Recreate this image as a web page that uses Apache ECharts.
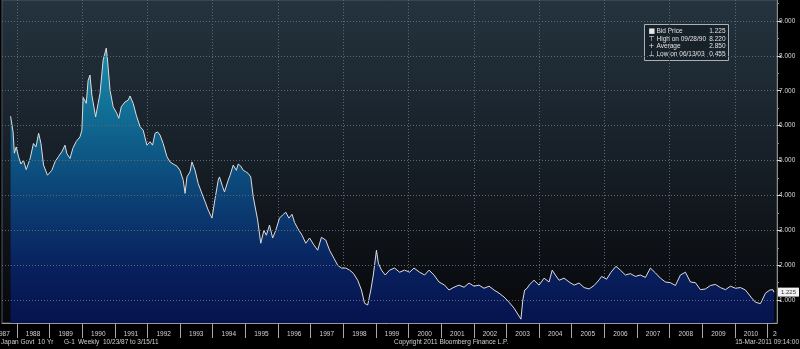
<!DOCTYPE html>
<html>
<head>
<meta charset="utf-8">
<script src="https://cdn.jsdelivr.net/npm/echarts@6/dist/echarts.min.js"></script>
<style>
  html, body { margin: 0; padding: 0; background: #000; }
  #chart { width: 800px; height: 349px; }
</style>
</head>
<body>
<div id="chart"></div>
<script>
// Japan Govt 10 Yr yield, sampled from the weekly series (10/23/87 to 3/15/11)
const dates = [
  '1987-10-23','1987-11-20','1987-12-04','1987-12-25','1988-01-20','1988-02-16','1988-03-15','1988-04-15',
  '1988-05-29','1988-07-05','1988-08-02','1988-09-01','1988-09-27','1988-10-26','1988-12-09','1989-01-27',
  '1989-03-03','1989-04-10','1989-05-18','1989-06-23','1989-07-14','1989-08-18','1989-09-19','1989-10-25',
  '1989-12-08','1989-12-29','1990-01-12','1990-02-16','1990-03-09','1990-03-30','1990-04-20','1990-05-04',
  '1990-06-01','1990-06-29','1990-07-20','1990-08-24','1990-09-28','1990-10-12','1990-11-09','1990-12-14',
  '1991-01-25','1991-02-15','1991-03-15','1991-04-26','1991-05-31','1991-06-21','1991-07-26','1991-08-30',
  '1991-10-11','1991-11-15','1991-12-27','1992-01-31','1992-02-28','1992-03-27','1992-04-24','1992-05-22',
  '1992-06-26','1992-08-07','1992-09-11','1992-10-16','1992-11-27','1992-12-31','1993-02-05','1993-02-26',
  '1993-03-19','1993-04-23','1993-05-14','1993-06-18','1993-07-23','1993-08-27','1993-10-08','1993-11-12',
  '1993-12-24','1994-01-28','1994-03-04','1994-03-18','1994-04-22','1994-05-13','1994-06-24','1994-07-15',
  '1994-08-19','1994-09-02','1994-09-23','1994-10-14','1994-11-11','1994-12-09','1995-01-06','1995-02-03',
  '1995-03-03','1995-03-31','1995-05-19','1995-06-23','1995-07-28','1995-08-25','1995-09-29','1995-11-03',
  '1995-12-08','1996-01-19','1996-02-23','1996-03-29','1996-05-03','1996-06-07','1996-07-05','1996-08-09',
  '1996-09-27','1996-11-08','1996-12-20','1997-02-07','1997-03-21','1997-05-02','1997-06-20','1997-08-01',
  '1997-09-19','1997-10-31','1997-12-12','1998-01-30','1998-03-13','1998-04-24','1998-06-12','1998-07-24',
  '1998-08-28','1998-10-02','1998-11-06','1998-12-04','1999-01-08','1999-01-29','1999-03-05','1999-04-16',
  '1999-06-04','1999-07-30','1999-09-24','1999-11-19','2000-01-14','2000-03-03','2000-05-05','2000-06-30',
  '2000-08-18','2000-10-13','2000-12-08','2001-02-09','2001-03-30','2001-05-25','2001-07-20','2001-09-14',
  '2001-11-09','2002-01-04','2002-03-01','2002-04-26','2002-06-21','2002-08-16','2002-10-11','2002-12-06',
  '2003-01-31','2003-03-28','2003-06-13','2003-07-04','2003-07-25','2003-08-22','2003-09-12','2003-11-07',
  '2004-01-02','2004-02-27','2004-04-23','2004-05-28','2004-07-02','2004-08-13','2004-10-08','2004-12-03',
  '2005-01-28','2005-03-25','2005-05-20','2005-07-15','2005-09-09','2005-11-04','2005-12-02','2006-01-27',
  '2006-03-17','2006-05-12','2006-06-30','2006-08-25','2006-10-20','2006-12-15','2007-02-09','2007-04-06',
  '2007-06-01','2007-07-27','2007-09-21','2007-11-16','2008-01-11','2008-03-07','2008-05-02','2008-06-27',
  '2008-08-22','2008-10-17','2008-12-12','2009-02-06','2009-04-03','2009-05-29','2009-07-24','2009-09-18',
  '2009-11-13','2010-01-08','2010-03-05','2010-04-30','2010-07-09','2010-08-20','2010-10-15','2010-12-10',
  '2011-01-28','2011-03-04','2011-03-15'
];
const yields = [
  6.27, 5.82, 5.21, 5.39, 5.11, 4.90, 5.01, 4.74,
  5.06, 5.49, 5.39, 5.78, 5.49, 4.87, 4.58, 4.72,
  4.96, 5.11, 5.25, 5.44, 5.20, 5.06, 5.35, 5.54,
  5.68, 5.87, 6.81, 6.64, 7.30, 7.45, 6.87, 6.92,
  6.25, 6.64, 6.92, 7.88, 8.22, 7.88, 7.02, 6.54,
  6.35, 6.21, 6.54, 6.68, 6.73, 6.85, 6.64, 6.30,
  5.97, 5.87, 5.44, 5.54, 5.44, 5.78, 5.82, 5.73,
  5.49, 5.11, 4.96, 4.90, 4.84, 4.72, 4.44, 4.06,
  4.53, 4.68, 4.96, 4.72, 4.34, 4.10, 3.82, 3.58,
  3.35, 3.91, 4.44, 4.53, 4.25, 4.10, 4.44, 4.58,
  4.87, 4.92, 4.72, 4.90, 4.84, 4.72, 4.68, 4.63,
  4.53, 3.96, 3.30, 2.63, 3.00, 2.86, 3.15, 2.78,
  3.00, 3.35, 3.44, 3.52, 3.35, 3.46, 3.23, 3.06,
  2.86, 2.63, 2.78, 2.58, 2.43, 2.80, 2.72, 2.43,
  2.20, 2.00, 1.92, 1.92, 1.86, 1.77, 1.57, 1.29,
  0.91, 0.86, 1.29, 1.72, 2.43, 2.06, 1.86, 1.72,
  1.86, 1.92, 1.80, 1.86, 1.80, 1.92, 1.80, 1.72,
  1.86, 1.72, 1.52, 1.43, 1.29, 1.37, 1.43, 1.37,
  1.49, 1.40, 1.43, 1.34, 1.40, 1.29, 1.20, 1.09,
  0.94, 0.77, 0.455, 1.00, 1.29, 1.34, 1.43, 1.57,
  1.43, 1.63, 1.52, 1.86, 1.72, 1.57, 1.63, 1.52,
  1.43, 1.49, 1.36, 1.32, 1.42, 1.58, 1.68, 1.60,
  1.80, 1.97, 1.86, 1.72, 1.76, 1.68, 1.72, 1.65,
  1.92, 1.78, 1.63, 1.52, 1.50, 1.42, 1.72, 1.80,
  1.52, 1.50, 1.30, 1.32, 1.42, 1.45, 1.36, 1.30,
  1.40, 1.34, 1.36, 1.29, 1.06, 0.94, 0.90, 1.20,
  1.29, 1.30, 1.225
];
const yearLabels = [1987,1988,1989,1990,1991,1992,1993,1994,1995,1996,1997,1998,1999,
                    2000,2001,2002,2003,2004,2005,2006,2007,2008,2009,2010,2011];
const yieldTicks = [1, 2, 3, 4, 5, 6, 7, 8, 9];
const averageYield = 2.850;

const axisStart = '1987-07-19';
const axisEnd = '2011-04-18';
const yMin = 0.345, yMax = 9.6;

const footerParts = ['Japan Govt  10 Yr', 'G-1', 'Weekly', '10/23/87 to 3/15/11'];
const footerMid = 'Copyright 2011 Bloomberg Finance L.P.';
const footerRight = '15-Mar-2011 09:14:00';

const FONT = '"Liberation Sans", "DejaVu Sans", sans-serif';

const ts = s => Date.parse(s + 'T00:00:00Z');
const seriesData = dates.map((d, i) => [ts(d), yields[i]]);

// high / low / last for the info box
let hi = 0, lo = 0;
yields.forEach((v, i) => { if (v > yields[hi]) hi = i; if (v < yields[lo]) lo = i; });
const last = yields[yields.length - 1];
function mdy(s) { const p = s.split('-'); return p[1] + '/' + p[2] + '/' + p[0].slice(2); }

// year separators on Jan 1; full years get a label centred mid-year
const inner = yearLabels.filter(y => y > 1987 && y < 2011);
const yearStarts = yearLabels.filter(y => y > 1987).map(y => ts(y + '-01-01'));
const yearMids = inner.map(y => ts(y + '-07-01'));
const evenYears = yearLabels.filter(y => y % 2 === 0).map(y => ts(y + '-01-01'));
const halfTicks = yieldTicks.map(v => v + 0.5).filter(v => v < yMax);

const infoRows = [
  ['\u25A0', 'Bid Price', last.toFixed(3)],
  ['\u22A4', 'High on ' + mdy(dates[hi]), yields[hi].toFixed(3)],
  ['+', 'Average', averageYield.toFixed(3)],
  ['\u22A5', 'Low on ' + mdy(dates[lo]), yields[lo].toFixed(3)]
];

const infoBox = {
  type: 'group', left: 644, top: 24, z: 200,
  children: [
    { type: 'rect', shape: { x: 0, y: 0, width: 84, height: 36 },
      style: { fill: '#17212a', stroke: '#a9b0b6', lineWidth: 1 } }
  ].concat(...infoRows.map((r, i) => [
    { type: 'text', x: 4, y: 3 + i * 7.8,
      style: { text: r[0], fill: '#e8e8e8', font: '7px "DejaVu Sans"' } },
    { type: 'text', x: 12, y: 3 + i * 7.8,
      style: { text: r[1], fill: '#e0e0e0', font: '6.5px ' + FONT } },
    { type: 'text', x: 81, y: 3 + i * 7.8,
      style: { text: r[2], fill: '#e0e0e0', font: '6.5px ' + FONT, align: 'right' } }
  ]))
};

const footerX = [1, 64, 78, 103];
const footer = footerParts.map((t, i) => ({
  type: 'text', z: 200, x: footerX[i], y: 339,
  style: { text: t, fill: '#cfcfcf', font: '6.5px ' + FONT }
})).concat([
  { type: 'text', z: 200, x: 394, y: 339,
    style: { text: footerMid, fill: '#cfcfcf', font: '6.5px ' + FONT } },
  { type: 'text', z: 200, x: 799, y: 339,
    style: { text: footerRight, fill: '#cfcfcf', font: '6.5px ' + FONT, align: 'right' } }
]);

const gridLine = { show: true, lineStyle: { color: '#5d6872', type: [1, 2], width: 1 } };

const chart = echarts.init(document.getElementById('chart'), null, { renderer: 'canvas' });

chart.setOption({
  backgroundColor: '#000',
  animation: false,
  grid: {
    left: 2, right: 23, top: 0, bottom: 26,
    show: true,
    borderColor: '#4d5862', borderWidth: 1,
    backgroundColor: {
      type: 'linear', x: 0, y: 0, x2: 0, y2: 1,
      colorStops: [
        { offset: 0, color: '#24333e' },
        { offset: 0.45, color: '#18212a' },
        { offset: 0.75, color: '#0e1217' },
        { offset: 1, color: '#06070a' }
      ]
    }
  },
  xAxis: [
    {
      type: 'value', min: ts(axisStart), max: ts(axisEnd), position: 'bottom', z: 100,
      axisLine: { show: true, lineStyle: { color: '#9a9a9a', width: 1 } },
      axisTick: { show: true, inside: false, customValues: yearStarts, length: 15,
                  lineStyle: { color: '#a8a8a8', width: 1, type: 'solid' } },
      axisLabel: {
        customValues: yearMids, margin: 8, color: '#d2d2d2', fontSize: 6.5, fontFamily: FONT,
        formatter: v => String(new Date(v).getUTCFullYear())
      },
      splitLine: { show: false }
    },
    {
      type: 'value', min: ts(axisStart), max: ts(axisEnd), position: 'bottom',
      axisLine: { show: false },
      axisTick: { show: false, customValues: evenYears },
      axisLabel: { show: false },
      splitLine: gridLine
    }
  ],
  yAxis: [
    {
      type: 'value', position: 'right', min: yMin, max: yMax, z: 100,
      axisLine: { show: true, lineStyle: { color: '#8a8a8a' } },
      axisTick: { show: true, length: 4, customValues: yieldTicks, lineStyle: { color: '#d8d8d8' } },
      axisLabel: {
        customValues: yieldTicks, margin: 2, color: '#d8d8d8', fontSize: 6.5, fontFamily: FONT,
        formatter: v => v.toFixed(3)
      },
      splitLine: gridLine
    },
    {
      type: 'value', position: 'right', min: yMin, max: yMax,
      axisLine: { show: false },
      axisTick: { show: true, length: 2, customValues: halfTicks, lineStyle: { color: '#8a8a8a' } },
      axisLabel: { show: false },
      splitLine: { show: false }
    }
  ],
  series: [{
    type: 'line',
    data: seriesData,
    showSymbol: false,
    symbol: 'none',
    lineStyle: { color: '#dcdcdc', width: 1 },
    areaStyle: {
      origin: 'start',
      opacity: 1,
      color: {
        type: 'linear', x: 0, y: 0, x2: 0, y2: 335, global: true,
        colorStops: [
          { offset: 0, color: '#22a2c0' },
          { offset: 0.15, color: '#198cad' },
          { offset: 0.35, color: '#106b92' },
          { offset: 0.6, color: '#0b3f74' },
          { offset: 0.8, color: '#08205e' },
          { offset: 1, color: '#06104a' }
        ]
      }
    },
    markLine: {
      silent: true, symbol: 'none',
      lineStyle: { color: 'rgba(0,0,0,0)', width: 0 },
      label: {
        show: true, position: 'end', distance: 1, formatter: last.toFixed(3),
        backgroundColor: '#f2f2f2', color: '#333', fontSize: 6, fontFamily: FONT,
        padding: [2, 3, 1, 3]
      },
      data: [{ yAxis: last }]
    }
  }],
  graphic: [infoBox].concat(footer)
});

// partial years at both ends of the date axis, placed through the axis scale
const edgeY = 331;
const x1988 = chart.convertToPixel({ xAxisIndex: 0 }, ts('1988-01-01'));
const x2011 = chart.convertToPixel({ xAxisIndex: 0 }, ts('2011-01-01'));
chart.setOption({
  graphic: [
    { id: 'y1987', type: 'text', z: 120, x: x1988 - 7, y: edgeY,
      style: { text: '1987', fill: '#d2d2d2', font: '6.5px ' + FONT, align: 'right' } },
    { id: 'y2011', type: 'text', z: 120, x: x2011 + 5.5, y: edgeY,
      style: { text: '2011', fill: '#d2d2d2', font: '6.5px ' + FONT, align: 'left' } },
    // black panel past the right end of the date axis clips the last label
    { id: 'mask', type: 'rect', z: 150, shape: { x: 777, y: 324, width: 23, height: 14 }, style: { fill: '#000' } }
  ]
});
</script>
</body>
</html>
